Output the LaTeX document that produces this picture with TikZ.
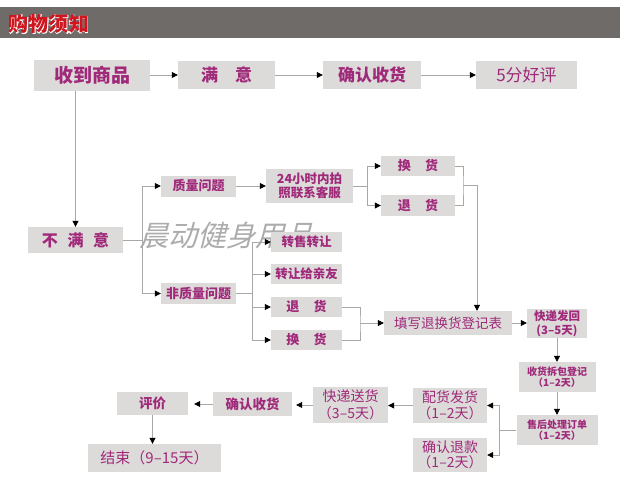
\documentclass[tikz,border=0pt]{standalone}
\usepackage{fontspec}
\setmainfont{Noto Sans CJK SC}
\newfontfamily\wmfont[FakeSlant=0.25]{Noto Sans CJK SC}
\newfontfamily\haloFont[FakeBold=7]{Noto Sans CJK SC}
\usetikzlibrary{arrows.meta}
\definecolor{boxgray}{HTML}{DCDBDA}
\definecolor{txt}{HTML}{A0297A}
\definecolor{linegray}{HTML}{A8A8A8}
\definecolor{bar}{HTML}{6F6B69}
\definecolor{titlered}{HTML}{D0151E}
\newcommand\myfs[2]{\fontsize{#1}{#2}\selectfont}
\tikzset{
  box/.style={fill=boxgray, text=txt, inner sep=0pt, align=center},
  conn/.style={draw=linegray, line width=0.8pt},
  arr/.style={conn, -{Triangle[length=6pt,width=6pt,color=black]}},
}
\begin{document}
\begin{tikzpicture}[x=1pt,y=-1pt]
\useasboundingbox (0,0) rectangle (620,484);
\fill[white] (0,0) rectangle (620,484);
\fill[bar] (0,7) rectangle (620,38);
% title with white halo
\node[inner sep=0pt, text=white, font=\haloFont\myfs{20}{22}] (halo) at (49,24) {购物须知};
\node[inner sep=0pt, text=titlered, font=\myfs{20}{22}\bfseries] (title) at (49,24) {购物须知};

% watermark
\node[text=gray!65, inner sep=0pt, font=\wmfont\myfs{29}{30}] (wm) at (226,236) {晨动健身用品};

% top row
\node[box, minimum width=116pt, minimum height=31pt, font=\myfs{19}{21}\bfseries] (recv) at (92,75.5) {收到商品};
\node[box, minimum width=97pt, minimum height=28pt, font=\myfs{17}{19}\bfseries] (sat) at (226.5,75) {满\hspace{1em}意};
\node[box, minimum width=98pt, minimum height=28pt, font=\myfs{17}{19}\bfseries] (conf) at (372,75) {确认收货};
\node[box, minimum width=101pt, minimum height=28pt, font=\myfs{17}{19}] (good) at (526.5,75) {5分好评};

% unsatisfied branch
\node[box, minimum width=95pt, minimum height=26pt, font=\myfs{16}{18}\bfseries] (unsat) at (75.5,240) {不\hspace{0.6em}满\hspace{0.6em}意};
\node[box, minimum width=75pt, minimum height=21pt, font=\myfs{13}{15}\bfseries] (qual) at (198.5,186) {质量问题};
\node[box, minimum width=75pt, minimum height=21pt, font=\myfs{13}{15}\bfseries] (nonq) at (198.5,293.5) {非质量问题};
\node[box, minimum width=87pt, minimum height=34pt, font=\myfs{12.5}{14}\bfseries] (h24) at (309.5,186) {24小时内拍\\照联系客服};
\node[box, minimum width=74pt, minimum height=20pt, font=\myfs{13}{15}\bfseries] (hh) at (418,166) {换\hspace{1.1em}货};
\node[box, minimum width=74pt, minimum height=21pt, font=\myfs{13}{15}\bfseries] (th) at (418,205.5) {退\hspace{1.1em}货};
\node[box, minimum width=71pt, minimum height=20pt, font=\myfs{12.5}{14}\bfseries] (zs) at (306.5,242) {转售转让};
\node[box, minimum width=71pt, minimum height=20pt, font=\myfs{12.5}{14}\bfseries] (zq) at (306.5,274) {转让给亲友};
\node[box, minimum width=71pt, minimum height=20pt, font=\myfs{13}{15}\bfseries] (th2) at (306.5,307) {退\hspace{1.1em}货};
\node[box, minimum width=71pt, minimum height=20pt, font=\myfs{13}{15}\bfseries] (hh2) at (306.5,340) {换\hspace{1.1em}货};
\node[box, minimum width=128pt, minimum height=24pt, font=\myfs{13.5}{15}] (form) at (448,323) {填写退换货登记表};
\node[box, minimum width=60pt, minimum height=29pt, font=\myfs{11.5}{14.5}\bfseries] (kd) at (557,323.5) {快递发回\\(3–5天)};
\node[box, minimum width=77pt, minimum height=30pt, font=\myfs{10}{11.5}\bfseries] (sh) at (557,377) {收货拆包登记\\（1–2天）};
\node[box, minimum width=81pt, minimum height=30pt, font=\myfs{10}{11.5}\bfseries] (ss) at (557,430) {售后处理订单\\（1–2天）};
\node[box, minimum width=74pt, minimum height=35pt, font=\myfs{14}{16}] (ph) at (450,405.5) {配货发货\\（1–2天）};
\node[box, minimum width=74pt, minimum height=34pt, font=\myfs{14}{15.5}] (tk) at (450,455) {确认退款\\（1–2天）};
\node[box, minimum width=75pt, minimum height=36pt, font=\myfs{14}{16.5}] (ks) at (350.5,405) {快递送货\\（3–5天）};
\node[box, minimum width=79pt, minimum height=24pt, font=\myfs{13.5}{15}\bfseries] (qs) at (252.5,404) {确认收货};
\node[box, minimum width=71pt, minimum height=23pt, font=\myfs{13.5}{15}\bfseries] (pj) at (152.5,403.5) {评价};
\node[box, minimum width=133pt, minimum height=28pt, font=\myfs{15}{17}] (end) at (154.5,458) {结束（9–15天）};

% connectors top row
\draw[arr] (recv.east |- sat.west) -- (sat.west);
\draw[arr] (sat.east) -- (conf.west);
\draw[arr] (conf.east) -- (good.west);
\draw[arr] (recv.south -| unsat.north) -- (unsat.north);

% unsatisfied split
\coordinate (j1) at (142,240);
\draw[conn] (unsat.east) -- (j1);
\draw[arr] (j1) |- (qual.west);
\draw[arr] (j1) |- (nonq.west);

\draw[arr] (qual.east) -- (qual.east -| h24.west);
\coordinate (j2) at (367,186);
\draw[conn] (h24.east) -- (j2);
\draw[arr] (j2) |- (hh.west);
\draw[arr] (j2) |- (th.west);
\coordinate (b3) at (463,185.5);
\draw[conn] (hh.east) -| (b3) |- (th.east);
\coordinate (j3) at (477,185.5);
\draw[arr] (b3) -- (j3) -- (j3 |- form.north);

\coordinate (j4) at (252,293.5);
\draw[conn] (nonq.east) -- (j4);
\draw[arr] (j4) |- (zs.west);
\draw[arr] (j4) |- (zq.west);
\draw[arr] (j4) |- (th2.west);
\draw[arr] (j4) |- (hh2.west);
\coordinate (b4) at (360,323);
\draw[conn] (th2.east) -| (b4) |- (hh2.east);
\draw[arr] (b4) -- (form.west);

\draw[arr] (form.east) -- (form.east -| kd.west);
\draw[arr] (kd.south) -- (sh.north);
\draw[arr] (sh.south) -- (ss.north);
\coordinate (j5) at (499,430);
\draw[conn] (ss.west) -- (j5);
\draw[arr] (j5) |- (ph.east);
\draw[arr] (j5) |- (tk.east);
\draw[arr] (ph.west) -- (ph.west -| ks.east);
\draw[arr, shorten >=4pt] (ks.west) -- (ks.west -| qs.east);
\draw[arr, shorten >=6pt] (qs.west) -- (qs.west -| pj.east);
\draw[arr] (pj.south) -- (pj.south |- end.north);
\end{tikzpicture}
\end{document}
